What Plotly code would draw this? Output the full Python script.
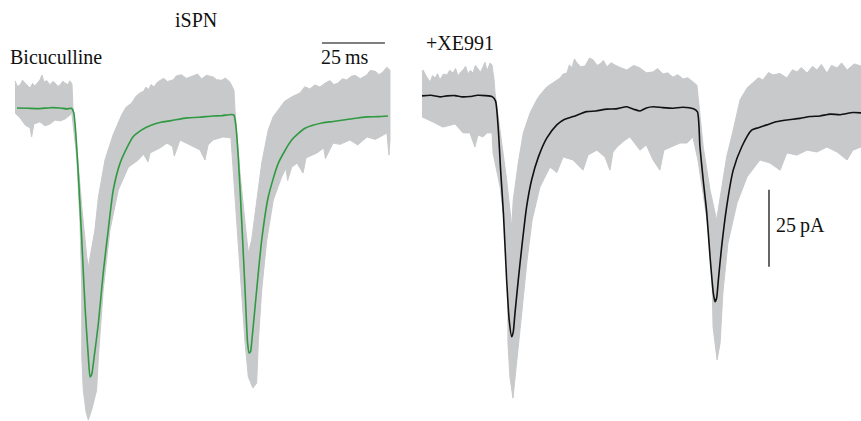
import plotly.graph_objects as go

# ---------------- Left panel (iSPN, Bicuculline) ----------------
# time in ms, current in pA (baseline = 0)
left_mean_t = [0.8, 5.0, 9.9, 13.9, 17.9, 20.5, 22.4, 23.3, 23.8, 25.1, 26.5, 27.8, 29.1, 29.8, 30.4, 31.1,
               33.1, 35.0, 37.0, 39.0, 41.7, 45.0, 46.8, 50.3, 54.0, 57.5, 62.0, 68.3, 73.0,
               78.6, 82.0, 85.7, 86.9, 87.6, 88.6, 90.0, 91.3, 92.3, 92.9, 93.5, 93.9, 95.9, 97.9, 100.5,
               104.5, 109.8, 115.1, 122.2, 126.2, 133.0, 139.6, 144.0, 148.0]
left_mean_i = [0.0, -0.1, -0.2, 0.1, 0.0, -0.3, -0.1, -1.5, -4.9, -21.1, -42.9, -64.6, -80.8, -87.3, -86.6, -82.8,
               -69.8, -53.6, -39.6, -26.6, -17.9, -12.0, -9.4, -7.1, -5.6, -4.7, -4.1, -3.2, -3.0,
               -2.6, -2.5, -2.1, -2.3, -5.5, -15.8, -37.3, -59.1, -76.3, -79.5, -79.0, -76.3, -59.1, -42.9, -28.9,
               -17.9, -10.4, -6.6, -4.8, -4.4, -3.6, -2.9, -2.8, -2.6]

left_up_t = [0.0, 1.0, 2.0, 3.0, 4.0, 5.0, 6.0, 7.0, 7.9, 9.0, 9.9, 10.7, 11.5, 12.6, 13.9, 15.0, 15.9,
             17.0, 17.9, 19.0, 19.8, 21.0, 21.8, 22.6, 23.0,
             24.6, 26.5, 28.5, 29.1, 29.8, 31.7, 33.1, 35.7, 38.9, 42.3, 44.0, 46.3, 48.0, 49.6, 51.0,
             52.0, 53.0, 54.0, 55.2, 56.2, 57.5, 59.0, 60.5, 62.7, 64.0, 66.0, 68.0, 70.6, 72.5, 74.0,
             76.0, 78.6, 80.0, 82.0, 83.5, 85.3, 86.9, 87.3, 89.3, 91.3, 92.6,
             93.9, 95.9, 97.9, 100.5, 102.5, 104.5, 107.0, 109.8, 111.5, 113.1, 115.0, 117.0, 119.0,
             121.0, 123.0, 125.0, 126.5, 128.0, 130.0, 131.6, 133.5, 135.0, 137.0, 139.6, 141.0, 143.0,
             144.5, 146.0, 147.5, 148.8]
left_up_i = [8.8, 7.0, 7.5, 9.0, 8.1, 7.2, 6.5, 8.0, 7.1, 8.3, 9.1, 10.7, 8.4, 8.9, 7.5, 8.6, 8.1,
             7.0, 7.5, 8.7, 8.1, 7.6, 8.8, 7.8, 0.3,
             -13.6, -32.1, -48.4, -51.9, -48.4, -39.6, -28.9, -16.9, -8.8, -2.3, 0.2, 1.6, 3.8, 4.9, 5.4,
             6.8, 6.0, 7.6, 6.8, 8.1, 8.9, 9.6, 8.6, 9.1, 10.4, 10.8, 9.6, 10.4, 11.0, 9.4,
             10.6, 10.1, 9.2, 9.0, 9.7, 8.4, 5.8, -0.6, -21.1, -37.3, -47.1,
             -42.9, -29.9, -17.9, -7.1, -2.8, -0.6, 2.2, 3.6, 4.4, 4.9, 6.9, 6.2, 7.5,
             6.8, 8.0, 8.9, 7.6, 8.0, 9.5, 9.1, 10.3, 10.6, 9.5, 10.7, 12.2, 11.9,
             10.8, 11.7, 13.2, 12.3]

left_lo_t = [0.0, 2.0, 4.0, 6.0, 6.6, 7.5, 9.9, 11.9, 13.9, 15.9, 17.9, 19.8, 21.8, 22.5, 24.5,
             25.8, 26.5, 26.5, 27.1, 28.2, 29.1, 30.4, 32.4, 33.1, 35.0, 37.7, 41.0, 45.0, 48.9,
             51.0, 52.8, 53.6, 57.5, 60.3, 62.5, 63.2, 65.5, 69.4, 73.4, 75.4, 76.6, 78.6, 82.5, 85.7, 87.3, 88.6,
             90.0, 91.3, 92.6, 94.4, 95.9, 96.6, 97.9, 99.9, 102.5, 105.8, 107.5, 108.2, 109.8, 111.9, 114.3,
             115.5, 119.8, 122.5, 123.2, 126.2, 129.0, 132.9, 136.0, 139.7, 143.0, 147.6, 148.4, 148.8]
left_lo_i = [-1.6, -3.2, -5.5, -6.5, -9.4, -5.2, -4.5, -5.8, -5.2, -3.9, -4.2, -3.6, -2.3, -1.3, -15.9,
             -37.3, -59.1, -80.8, -91.6, -98.7, -101.3, -98.1, -91.6, -80.8, -59.1, -39.6, -26.6, -19.2, -16.9,
             -15.0, -17.5, -14.6, -13.0, -11.4, -12.5, -15.6, -10.4, -12.0, -13.6, -16.9, -12.0, -10.4, -9.4, -9.7, -27.6, -43.8,
             -60.1, -76.3, -87.3, -90.9, -89.3, -75.3, -59.1, -42.9, -29.9, -22.4, -19.6, -23.5, -19.2, -17.9, -21.1,
             -16.2, -14.6, -13.0, -16.4, -11.4, -11.8, -10.4, -12.0, -9.4, -10.2, -8.1, -15.3, -10.4]

# ---------------- Right panel (+XE991) ----------------
right_mean_t = [0.0, 3.5, 7.1, 10.0, 13.1, 16.0, 19.0, 22.0, 25.0, 28.0, 29.2, 30.3, 31.2, 32.3, 33.6,
                34.6, 35.6, 36.2, 36.9, 38.2, 39.6, 41.5, 43.5, 46.2, 49.5, 53.5, 56.1, 60.0, 65.4,
                69.0, 73.3, 77.0, 81.2, 84.0, 86.5, 89.0, 91.8, 95.5, 99.7, 103.5, 107.7, 109.3,
                110.3, 111.6, 113.0, 114.3, 115.6, 116.3, 116.9, 117.6, 118.9, 120.9, 123.5, 126.9,
                130.8, 133.5, 136.8, 140.5, 144.7, 150.0, 154.0, 157.9, 162.0, 166.0, 171.0, 174.2]
right_mean_i = [-0.3, -0.1, -0.6, -0.3, -0.2, -0.6, -0.5, -0.1, -0.2, -0.6, -2.0, -11.4, -24.4, -38.3, -60.1,
                -73.1, -78.5, -77.0, -70.8, -60.1, -49.4, -36.4, -27.6, -20.1, -14.0, -9.7, -8.1, -7.0, -5.4,
                -5.2, -4.6, -4.5, -3.8, -4.6, -5.2, -4.2, -3.8, -4.1, -4.3, -4.0, -4.5, -5.5,
                -16.8, -27.6, -38.3, -52.5, -64.3, -67.1, -66.0, -60.1, -49.3, -36.3, -24.4, -16.8,
                -11.4, -10.6, -9.7, -8.7, -8.1, -7.6, -7.0, -6.8, -6.2, -6.4, -5.7, -5.8]

right_up_t = [0.0, 0.4, 1.8, 3.2, 4.2, 5.2, 6.2, 7.1, 8.5, 9.9, 11.0, 12.3, 13.3, 14.3, 15.3, 16.3, 17.3,
              18.3, 19.2, 20.2, 21.2, 22.2, 23.2, 24.2, 25.0, 25.8, 27.0,
              27.8, 28.6, 29.0, 31.0, 33.6, 34.9, 35.6, 36.2, 38.2, 40.2, 42.9, 45.5, 46.8, 49.5,
              52.0, 54.8, 56.0, 57.5, 58.5, 59.5, 60.5, 61.5, 63.0, 64.7, 66.5, 67.9, 69.5, 70.6, 72.0, 73.4,
              75.0, 76.6, 79.0, 81.3, 84.0, 86.5, 89.0, 91.7, 93.5, 95.6, 97.5,
              99.6, 101.5, 103.6, 105.5, 107.5, 109.1, 111.6, 114.3, 116.9, 118.3, 120.9, 123.5, 126.2, 129.0,
              131.3, 133.5, 135.3, 137.5, 139.3, 142.0, 144.8, 147.0, 148.8, 150.5, 152.8, 155.0, 156.7,
              158.5, 160.7, 162.5, 164.7, 166.5, 168.7, 171.5, 174.2]
right_up_i = [7.5, 8.1, 6.0, 4.2, 6.3, 5.5, 6.9, 4.9, 6.8, 6.5, 8.0, 7.1, 8.6, 6.2, 7.4, 8.1, 9.3,
              6.8, 8.0, 7.1, 9.6, 8.4, 7.4, 9.1, 10.6, 7.8, 10.4,
              9.7, 4.9, 0.6, -11.4, -27.6, -37.3, -42.9, -34.1, -22.1, -12.3, -5.8, -1.6, 0.0, 2.6,
              3.9, 5.5, 6.8, 7.1, 9.8, 8.8, 11.7, 10.4, 9.2, 9.4, 12.0, 11.4, 9.6, 10.1, 11.2, 9.1,
              10.5, 9.7, 8.8, 8.1, 9.6, 8.8, 7.2, 7.5, 8.6, 6.8, 7.2,
              5.8, 6.6, 5.2, 5.6, 4.2, 3.2, -16.9, -30.8, -40.6, -33.1, -20.1, -11.4, -1.6, 2.3,
              3.9, 5.6, 4.9, 7.3, 6.5, 7.0, 5.5, 8.2, 7.5, 8.9, 7.1, 9.3, 8.1,
              9.9, 7.1, 9.6, 8.8, 10.4, 8.1, 10.1, 9.4]

right_lo_t = [0.0, 2.4, 4.4, 8.3, 9.9, 13.1, 16.3, 19.0, 21.0, 22.2, 24.2, 25.8, 27.8, 28.2, 31.0,
              32.9, 34.1, 34.1, 34.9, 36.1, 37.7, 39.7, 41.7, 43.7, 46.8, 50.8, 53.5, 56.0, 59.9, 63.9,
              65.9, 69.4, 72.6, 74.6, 75.8, 77.4, 80.0, 82.5, 86.5, 89.0, 91.7, 94.4, 96.0, 98.4, 102.4, 105.2,
              107.5, 109.5, 111.5, 113.5, 115.1, 115.5, 117.1, 118.3, 119.4, 121.4, 125.0, 129.0,
              134.1, 138.1, 142.1, 144.8, 148.8, 152.8, 156.7, 160.7, 164.7, 168.7, 171.0, 174.2]
right_lo_i = [-7.1, -8.1, -8.8, -10.4, -10.1, -9.4, -12.3, -12.3, -16.9, -13.0, -13.6, -12.3, -12.3, -18.8, -29.9,
              -42.9, -59.1, -80.5, -91.6, -98.4, -86.0, -69.8, -53.6, -40.6, -29.9, -23.4, -25.2, -20.1, -21.1, -24.4,
              -19.5, -17.9, -20.1, -24.4, -18.5, -16.9, -15.0, -13.6, -17.9, -16.2, -21.1, -24.4, -17.9, -16.9, -15.6, -15.6,
              -13.6, -21.1, -31.8, -42.9, -59.1, -75.3, -86.0, -80.5, -64.3, -48.1, -35.1, -26.6,
              -21.1, -22.1, -24.4, -18.8, -19.5, -17.9, -18.5, -16.9, -18.5, -21.1, -17.9, -16.9]

# scale bars
scale_ms = 25
scale_pa = 25

GRAY = "#c8c9cb"
GREEN = "#2f9a41"
BLACK = "#111111"

fig = go.Figure()


def band(ut, ui, lt, li, xa, ya):
    return go.Scatter(x=ut + lt[::-1], y=ui + li[::-1], fill="toself", fillcolor=GRAY,
                      line=dict(color=GRAY, width=1), mode="lines", xaxis=xa, yaxis=ya,
                      hoverinfo="skip", showlegend=False)


fig.add_trace(band(left_up_t, left_up_i, left_lo_t, left_lo_i, "x", "y"))
fig.add_trace(go.Scatter(x=left_mean_t, y=left_mean_i, mode="lines",
                         line=dict(color=GREEN, width=1.6, shape="spline", smoothing=0.6),
                         xaxis="x", yaxis="y", showlegend=False))
fig.add_trace(band(right_up_t, right_up_i, right_lo_t, right_lo_i, "x2", "y2"))
fig.add_trace(go.Scatter(x=right_mean_t, y=right_mean_i, mode="lines",
                         line=dict(color=BLACK, width=1.6, shape="spline", smoothing=0.6),
                         xaxis="x2", yaxis="y2", showlegend=False))

# scale bars drawn in data units
bar_x0 = 121.8
fig.add_shape(type="line", xref="x", yref="y", x0=bar_x0, x1=bar_x0 + scale_ms, y0=21.1, y1=21.1,
              line=dict(color="black", width=1.2))
bar_y0 = -30.8
fig.add_shape(type="line", xref="x2", yref="y2", x0=137.7, x1=137.7, y0=bar_y0, y1=bar_y0 - scale_pa,
              line=dict(color="black", width=1.2))

FONT = dict(family="Liberation Serif, Times New Roman, serif", size=20, color="#111111")
W, H = 861, 421


def label(text, px, py, anchor="left"):
    fig.add_annotation(text=text, x=px / W, y=1 - py / H, xref="paper", yref="paper",
                       xanchor=anchor, yanchor="middle", showarrow=False, font=FONT,
                       borderpad=0)


label("iSPN", 196, 20, "center")
label("Bicuculline", 9, 57)
label(f"{scale_ms}\u2009ms", 320, 57)
label("+XE991", 425, 43)
label(f"{scale_pa}\u2009pA", 775, 225)

axis_off = dict(visible=False, showgrid=False, zeroline=False, fixedrange=True)
fig.update_layout(
    width=W, height=H, margin=dict(l=0, r=0, t=0, b=0),
    paper_bgcolor="white", plot_bgcolor="white", showlegend=False,
    xaxis=dict(domain=[0, 410 / W], range=[-5.95, 156.75], **axis_off),
    yaxis=dict(domain=[0, 1], range=[-101.62, 35.06], **axis_off),
    xaxis2=dict(domain=[410 / W, 1], range=[-4.76, 174.21], anchor="y2", **axis_off),
    yaxis2=dict(domain=[0, 1], range=[-105.84, 30.84], anchor="x2", **axis_off),
)

fig.write_html("out.html")
